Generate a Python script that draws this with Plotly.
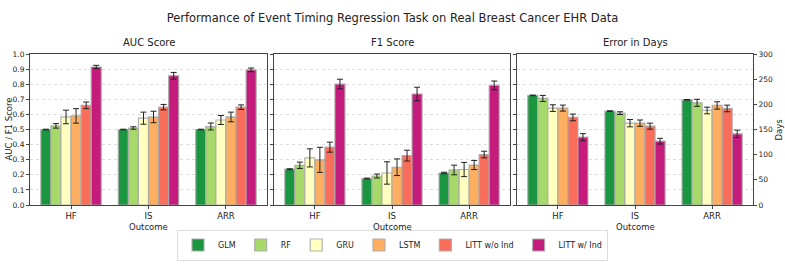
import plotly.graph_objects as go

outcomes = ["HF", "IS", "ARR"]
models = ["GLM", "RF", "GRU", "LSTM", "LITT w/o Ind", "LITT w/ Ind"]
colors = ["#1a9641", "#a6d96a", "#ffffbf", "#fdae61", "#f96e5a", "#c51b7d"]

# AUC values per model (HF, IS, ARR) and std
auc = {
    "GLM": [0.50, 0.50, 0.50],
    "RF": [0.524, 0.51, 0.52],
    "GRU": [0.583, 0.575, 0.563],
    "LSTM": [0.59, 0.583, 0.583],
    "LITT w/o Ind": [0.66, 0.648, 0.648],
    "LITT w/ Ind": [0.914, 0.856, 0.895],
}
auc_err = {
    "GLM": [0.002, 0.002, 0.002],
    "RF": [0.015, 0.008, 0.023],
    "GRU": [0.045, 0.04, 0.03],
    "LSTM": [0.048, 0.038, 0.032],
    "LITT w/o Ind": [0.022, 0.018, 0.015],
    "LITT w/ Ind": [0.011, 0.022, 0.012],
}
f1 = {
    "GLM": [0.237, 0.175, 0.212],
    "RF": [0.263, 0.192, 0.232],
    "GRU": [0.312, 0.212, 0.235],
    "LSTM": [0.299, 0.25, 0.265],
    "LITT w/o Ind": [0.383, 0.327, 0.334],
    "LITT w/ Ind": [0.801, 0.735, 0.792],
}
f1_err = {
    "GLM": [0.003, 0.003, 0.005],
    "RF": [0.021, 0.013, 0.032],
    "GRU": [0.06, 0.074, 0.047],
    "LSTM": [0.083, 0.055, 0.03],
    "LITT w/o Ind": [0.033, 0.036, 0.022],
    "LITT w/ Ind": [0.032, 0.045, 0.029],
}
days = {
    "GLM": [217.7, 186.5, 209.0],
    "RF": [211.7, 182.5, 203.0],
    "GRU": [192.5, 162.6, 187.8],
    "LSTM": [192.5, 162.6, 197.8],
    "LITT w/o Ind": [174.0, 156.6, 191.8],
    "LITT w/ Ind": [134.7, 126.8, 141.4],
}
days_err = {
    "GLM": [0.6, 0.6, 0.6],
    "RF": [6.0, 2.7, 7.0],
    "GRU": [6.6, 7.3, 6.6],
    "LSTM": [6.0, 6.3, 7.3],
    "LITT w/o Ind": [6.6, 6.0, 6.6],
    "LITT w/ Ind": [7.0, 5.7, 7.3],
}

FONT = "DejaVu Sans"
fig = go.Figure()

# invisible trace so that the left grid axis of the third panel is rendered
fig.add_trace(go.Scatter(x=outcomes, y=[None, None, None], xaxis="x3", yaxis="y4",
                         showlegend=False, hoverinfo="skip", mode="markers"))

panels = [(auc, auc_err, "x", "y"), (f1, f1_err, "x2", "y2"), (days, days_err, "x3", "y3")]
for pi, (vals, errs, xa, ya) in enumerate(panels):
    for mi, m in enumerate(models):
        fig.add_trace(go.Bar(
            x=outcomes, y=vals[m], name=m, xaxis=xa, yaxis=ya,
            marker=dict(color=colors[mi], line=dict(color="rgba(170,170,170,0.9)", width=1.2)),
            error_y=dict(type="data", array=errs[m], color="#222222", thickness=1, width=3),
            showlegend=(pi == 0), legendgroup=m,
        ))

W, H = 785, 265
L, R, T, B = 30, 32, 54, 60
pw = W - L - R
def frac(px):
    return (px - L) / pw

dom1 = [0.0, frac(267)]
dom2 = [frac(274), frac(510)]
dom3 = [frac(517), 1.0]

common_x = dict(range=[-0.53, 2.53], showline=True, mirror=True, linecolor="#444", linewidth=1,
                ticks="outside", ticklen=3, tickcolor="#444", showgrid=False, automargin=False,
                tickfont=dict(size=8.5, color="#222"))
common_y = dict(range=[0, 1], dtick=0.1, showline=True, mirror=True, linecolor="#444", linewidth=1,
                ticks="outside", ticklen=3, tickcolor="#444", showgrid=True, automargin=False,
                gridcolor="#dddddd", griddash="dot", gridwidth=1, zeroline=False,
                tickfont=dict(size=7.5, color="#222"))

annotations = []
for name, dom in (("AUC Score", dom1), ("F1 Score", dom2), ("Error in Days", dom3)):
    annotations.append(dict(text=name, x=(dom[0] + dom[1]) / 2, y=1, xref="paper", yref="paper",
                            xanchor="center", yanchor="bottom", yshift=4, showarrow=False,
                            font=dict(size=10)))
    annotations.append(dict(text="Outcome", x=(dom[0] + dom[1]) / 2, y=0, xref="paper", yref="paper",
                            xanchor="center", yanchor="middle", yshift=-21.5, showarrow=False,
                            font=dict(size=8.5)))
annotations.append(dict(text="AUC / F1 Score", x=0, y=0.5, xref="paper", yref="paper",
                        xanchor="center", yanchor="middle", xshift=-22, textangle=-90,
                        showarrow=False, font=dict(size=8.5)))
annotations.append(dict(text="Days", x=1, y=0.5, xref="paper", yref="paper",
                        xanchor="center", yanchor="middle", xshift=25, textangle=-90,
                        showarrow=False, font=dict(size=8.5)))

fig.update_layout(
    width=W, height=H, margin=dict(l=L, r=R, t=T, b=B),
    paper_bgcolor="white", plot_bgcolor="white",
    font=dict(family=FONT, color="#222"),
    barmode="group", bargap=0.22, bargroupgap=0,
    hovermode=False,
    xaxis=dict(domain=dom1, anchor="y", **common_x),
    xaxis2=dict(domain=dom2, anchor="y2", **common_x),
    xaxis3=dict(domain=dom3, anchor="y3", **common_x),
    yaxis=dict(anchor="x", tickformat=".1f", **common_y),
    yaxis2=dict(anchor="x2", showticklabels=False, **common_y),
    yaxis4=dict(anchor="x3", showticklabels=False, **common_y),
    yaxis3=dict(anchor="x3", overlaying="y4", side="right", range=[0, 300], dtick=50,
                showline=True, linecolor="#444", linewidth=1, ticks="outside", ticklen=3,
                tickcolor="#444", showgrid=False, zeroline=False, automargin=False,
                tickfont=dict(size=7.5, color="#222")),
    title=dict(text="Performance of Event Timing Regression Task on Real Breast Cancer EHR Data",
               x=0.5, xanchor="center", y=1 - 18 / H, yanchor="middle",
               font=dict(size=11.5, color="#222")),
    legend=dict(orientation="h", xref="container", yref="container", x=0.5, xanchor="center",
                y=1 - 245 / H, yanchor="middle", bordercolor="#dddddd", borderwidth=1,
                font=dict(size=8), itemwidth=30, traceorder="normal", tracegroupgap=0),
    annotations=annotations,
)

fig.write_html("out.html", post_script="document.body.style.margin='0';",
               config={"displayModeBar": False})
